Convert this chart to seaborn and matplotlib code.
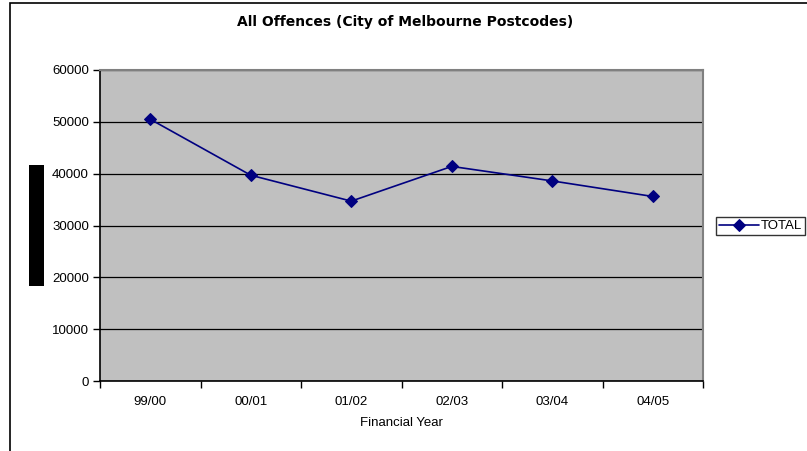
import matplotlib
matplotlib.use("Agg")
import matplotlib.pyplot as plt
import seaborn as sns
import pandas as pd
from matplotlib.patches import Rectangle

years = ["99/00", "00/01", "01/02", "02/03", "03/04", "04/05"]
total = [50500, 39700, 34700, 41400, 38600, 35600]
series_name = "TOTAL"
title = "All Offences (City of Melbourne Postcodes)"
xlabel = "Financial Year"
yticks = [0, 10000, 20000, 30000, 40000, 50000, 60000]

sns.set_theme(style="white")
plt.rcParams['font.family'] = ['Liberation Sans', 'DejaVu Sans']
plt.rcParams['text.color'] = 'black'
plt.rcParams['axes.labelcolor'] = 'black'
plt.rcParams['xtick.color'] = 'black'
plt.rcParams['ytick.color'] = 'black'
FS = 9.5

df = pd.DataFrame({"year": years, "value": total, "series": series_name})
df["pos"] = range(len(years))

fig = plt.figure(figsize=(8.07, 4.51), dpi=100)
ax = fig.add_axes([100/807, 1-381/451, (703-100)/807, (381-70)/451])
ax.set_facecolor("#C0C0C0")

sns.lineplot(data=df, x="pos", y="value", hue="series", palette=["#000080"],
             marker="D", markersize=6, markeredgecolor="#000080", linewidth=1.2,
             ax=ax, sort=False, zorder=3)

ax.set_xlim(-0.5, len(years) - 0.5)
ax.set_ylim(0, 60000)
ax.set_yticks(yticks)
ax.set_yticklabels([str(v) for v in yticks], fontsize=FS)
ax.yaxis.grid(True, color="black", linewidth=0.9)
ax.set_axisbelow(True)

ax.set_xticks([i - 0.5 for i in range(len(years) + 1)])
ax.set_xticklabels([])
ax.set_xticks(range(len(years)), minor=True)
ax.set_xticklabels(years, minor=True, fontsize=FS)
ax.tick_params(axis="x", which="minor", length=0, pad=11)
ax.tick_params(axis="x", which="major", length=5, width=1, color="black", direction="out", bottom=True)
ax.tick_params(axis="y", length=5, width=1, color="black", direction="out", left=True, pad=3)

for side in ["left", "bottom"]:
    ax.spines[side].set_color("black")
    ax.spines[side].set_linewidth(1.2)
for side in ["top", "right"]:
    ax.spines[side].set_color("#808080")
    ax.spines[side].set_linewidth(1.5)

ax.set_xlabel(xlabel, fontsize=FS, labelpad=6)
ax.set_ylabel("")

fig.text(405/807, 1-22/451, title, ha="center", va="center", fontsize=10,
         fontweight="bold", family=["DejaVu Sans"], color="black")

leg = ax.legend(loc="center left", bbox_to_anchor=(713/807, 1-226/451),
                bbox_transform=fig.transFigure, frameon=True, fontsize=FS,
                fancybox=False, borderpad=0.25, borderaxespad=0.2,
                handlelength=3.0, handletextpad=0.15)
leg.get_frame().set_edgecolor("black")
leg.get_frame().set_linewidth(1.0)
for t in leg.get_texts():
    t.set_text(series_name)
    t.set_color("black")

fig.patches.append(Rectangle((29/807, 1-286/451), 15/807, 121/451, transform=fig.transFigure,
                             facecolor="black", edgecolor="none", figure=fig))
fig.patches.append(Rectangle((10/807, -0.05), 1.2, 1.05 - 3/451, transform=fig.transFigure,
                             facecolor="none", edgecolor="black", linewidth=1.2, figure=fig))

fig.savefig("out.png", dpi=100)
